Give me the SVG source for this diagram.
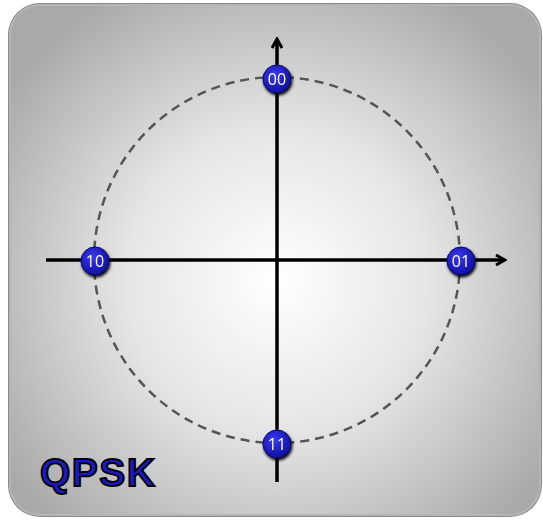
<svg xmlns="http://www.w3.org/2000/svg" width="543" height="520" viewBox="0 0 543 520">
<defs>
<radialGradient id="bg" cx="277" cy="280" r="330" gradientUnits="userSpaceOnUse">
<stop offset="0" stop-color="#ffffff"/>
<stop offset="0.45" stop-color="#e6e6e6"/>
<stop offset="1" stop-color="#a9a9a9"/>
</radialGradient>
<radialGradient id="ball" cx="0.4" cy="0.35" r="0.7">
<stop offset="0" stop-color="#3a3af0"/>
<stop offset="1" stop-color="#0c0c9a"/>
</radialGradient>
<marker id="arr" viewBox="0 0 12 12" refX="9" refY="6" markerWidth="12" markerHeight="12" markerUnits="userSpaceOnUse" orient="auto">
<path d="M1,1 L10,6 L1,11" fill="none" stroke="#000" stroke-width="3"/>
</marker>
<filter id="sh" x="-20%" y="-20%" width="140%" height="140%">
<feGaussianBlur in="SourceAlpha" stdDeviation="1.5"/>
<feOffset dx="1" dy="2" result="b"/>
<feMerge><feMergeNode in="b"/><feMergeNode in="SourceGraphic"/></feMerge>
</filter>
</defs>
<style>
.node circle{fill:url(#ball);stroke:#0a0a60;stroke-width:1}
.node text{font-family:"Open Sans","DejaVu Sans",sans-serif;font-size:16px;fill:#fff;text-anchor:middle}
.axis{stroke:#000;stroke-width:3.5;fill:none}
</style>
<rect x="8" y="3" width="534" height="514" rx="32" fill="#8a8a8a"/>
<rect x="10" y="5" width="530" height="510" rx="30" fill="url(#bg)" stroke="#b5b5b5" stroke-width="2"/>
<circle cx="277" cy="260" r="183" fill="none" stroke="#555" stroke-width="2.5" stroke-dasharray="9,6"/>
<g id="connectors">
<line class="axis" x1="46" y1="260" x2="504" y2="260" marker-end="url(#arr)"/>
<line class="axis" x1="277" y1="482" x2="277" y2="40" marker-end="url(#arr)"/>
</g>
<g id="n00" class="node" filter="url(#sh)"><circle cx="277" cy="79" r="14"/><text x="277" y="85">00</text></g>
<g id="n10" class="node" filter="url(#sh)"><circle cx="95" cy="261" r="14"/><text x="95" y="267">10</text></g>
<g id="n01" class="node" filter="url(#sh)"><circle cx="461" cy="261" r="14"/><text x="461" y="267">01</text></g>
<g id="n11" class="node" filter="url(#sh)"><circle cx="277" cy="444" r="14"/><text x="277" y="450">11</text></g>
<text x="40" y="486" font-family="'Liberation Sans',sans-serif" font-weight="bold" font-size="39" fill="#1a1ac0" stroke="#000" stroke-width="1.8" letter-spacing="1.5">QPSK</text>
</svg>
